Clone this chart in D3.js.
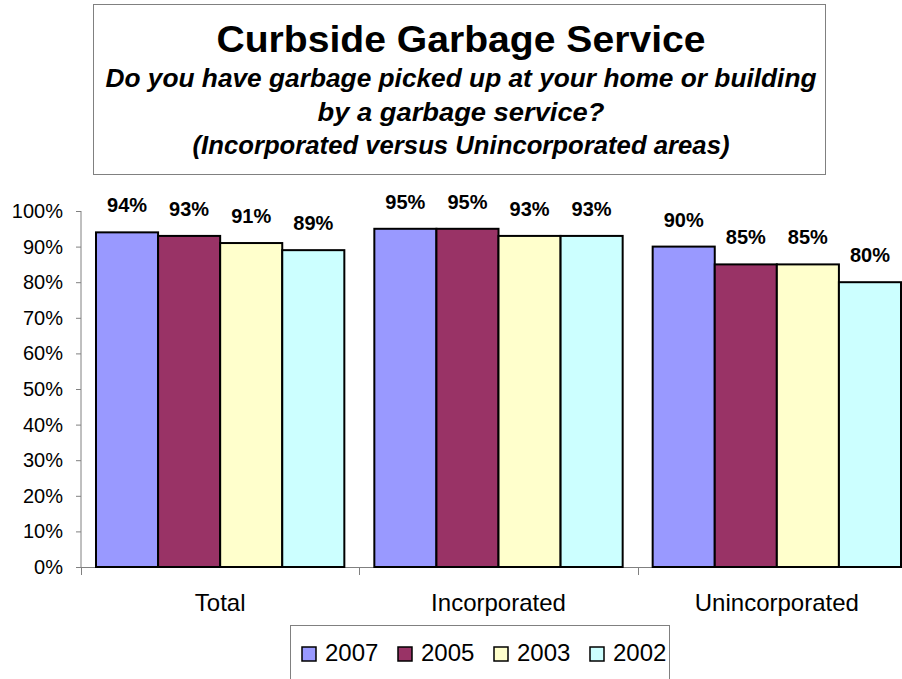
<!DOCTYPE html>
<html>
<head>
<meta charset="utf-8">
<script src="https://cdn.jsdelivr.net/npm/d3@7"></script>
<style>
  html, body { margin: 0; padding: 0; background: #fff; }
  svg { display: block; font-family: "Liberation Sans", Arial, sans-serif; }
</style>
</head>
<body>
<script>
const categories = ["Total", "Incorporated", "Unincorporated"];
const seriesNames = ["2007", "2005", "2003", "2002"];
const values2007 = [94, 95, 90];
const values2005 = [93, 95, 85];
const values2003 = [91, 93, 85];
const values2002 = [89, 93, 80];
const yTicks = [0, 10, 20, 30, 40, 50, 60, 70, 80, 90, 100];
const colors = ["#9999FF", "#993366", "#FFFFCC", "#CCFFFF"];

const seriesValues = [values2007, values2005, values2003, values2002];

const W = 902, H = 679;
const svg = d3.select("body").append("svg").attr("width", W).attr("height", H);

// Title box
svg.append("rect").attr("x", 93.5).attr("y", 4.5).attr("width", 732).attr("height", 170)
  .attr("fill", "#fff").attr("stroke", "#808080").attr("stroke-width", 1);

const titleLines = [
  {t: "Curbside Garbage Service", y: 52, size: 37, italic: false, len: 489},
  {t: "Do you have garbage picked up at your home or building", y: 87, size: 25, italic: true, len: 711},
  {t: "by a garbage service?", y: 120.5, size: 25, italic: true, len: 287},
  {t: "(Incorporated versus Unincorporated areas)", y: 154, size: 25, italic: true, len: 537}
];
svg.selectAll("text.title").data(titleLines).enter().append("text")
  .attr("class", "title")
  .attr("x", 461).attr("y", d => d.y)
  .attr("text-anchor", "middle")
  .attr("font-size", d => d.size)
  .attr("font-weight", "bold")
  .attr("font-style", d => d.italic ? "italic" : "normal")
  .attr("textLength", d => d.len)
  .attr("lengthAdjust", "spacingAndGlyphs")
  .text(d => d.t);

// Scales
const y = d3.scaleLinear().domain([0, 100]).range([567, 211]);
const x0 = d3.scaleBand().domain(categories).range([81, 916]).padding(0);
const x1 = d3.scaleBand().domain(seriesNames).range([15, x0.bandwidth() - 15]).padding(0);

// Y axis
const yAxis = d3.axisLeft(y).tickValues(yTicks).tickFormat(d => d + "%").tickSize(5).tickPadding(13);
const gy = svg.append("g").attr("transform", "translate(81,0)").call(yAxis);
gy.select(".domain").attr("stroke", "#808080").attr("d", "M0,211V567");
gy.selectAll(".tick line").attr("stroke", "#808080");
gy.selectAll(".tick text").attr("font-size", 20).attr("fill", "#000")
  .attr("font-family", "Liberation Sans, Arial, sans-serif");

// X axis line and boundary ticks
svg.append("line").attr("x1", 81).attr("x2", 916).attr("y1", 567.5).attr("y2", 567.5)
  .attr("stroke", "#808080");
const boundaries = categories.map(c => x0(c)).concat([x0(categories[categories.length - 1]) + x0.bandwidth()]);
svg.selectAll("line.xt").data(boundaries).enter().append("line")
  .attr("class", "xt")
  .attr("x1", d => Math.round(d) + 0.5).attr("x2", d => Math.round(d) + 0.5)
  .attr("y1", 567).attr("y2", 575)
  .attr("stroke", "#808080");
svg.selectAll("text.cat").data(categories).enter().append("text")
  .attr("class", "cat")
  .attr("x", d => x0(d) + x0.bandwidth() / 2)
  .attr("y", 611)
  .attr("text-anchor", "middle")
  .attr("font-size", 24)
  .text(d => d);

// Bars
const bars = [];
categories.forEach((c, ci) => {
  seriesNames.forEach((s, si) => {
    bars.push({cat: c, series: s, value: seriesValues[si][ci], color: colors[si]});
  });
});

svg.selectAll("rect.bar").data(bars).enter().append("rect")
  .attr("class", "bar")
  .attr("x", d => x0(d.cat) + x1(d.series))
  .attr("y", d => y(d.value))
  .attr("width", x1.bandwidth())
  .attr("height", d => y(0) - y(d.value))
  .attr("fill", d => d.color)
  .attr("stroke", "#000")
  .attr("stroke-width", 2);

svg.selectAll("text.lbl").data(bars).enter().append("text")
  .attr("class", "lbl")
  .attr("x", d => x0(d.cat) + x1(d.series) + x1.bandwidth() / 2)
  .attr("y", d => y(d.value) - 20)
  .attr("text-anchor", "middle")
  .attr("font-size", 20)
  .attr("font-weight", "bold")
  .text(d => d.value + "%");

// Legend
svg.append("rect").attr("x", 290.5).attr("y", 625.5).attr("width", 379).attr("height", 70)
  .attr("fill", "#fff").attr("stroke", "#808080");
const lg = svg.selectAll("g.leg").data(seriesNames).enter().append("g")
  .attr("class", "leg")
  .attr("transform", (d, i) => `translate(${302 + i * 96},0)`);
lg.append("rect").attr("x", 0).attr("y", 647).attr("width", 14).attr("height", 14)
  .attr("fill", (d, i) => colors[i]).attr("stroke", "#000").attr("stroke-width", 1.5);
lg.append("text").attr("x", 23).attr("y", 661).attr("font-size", 24).text(d => d);
</script>
</body>
</html>
